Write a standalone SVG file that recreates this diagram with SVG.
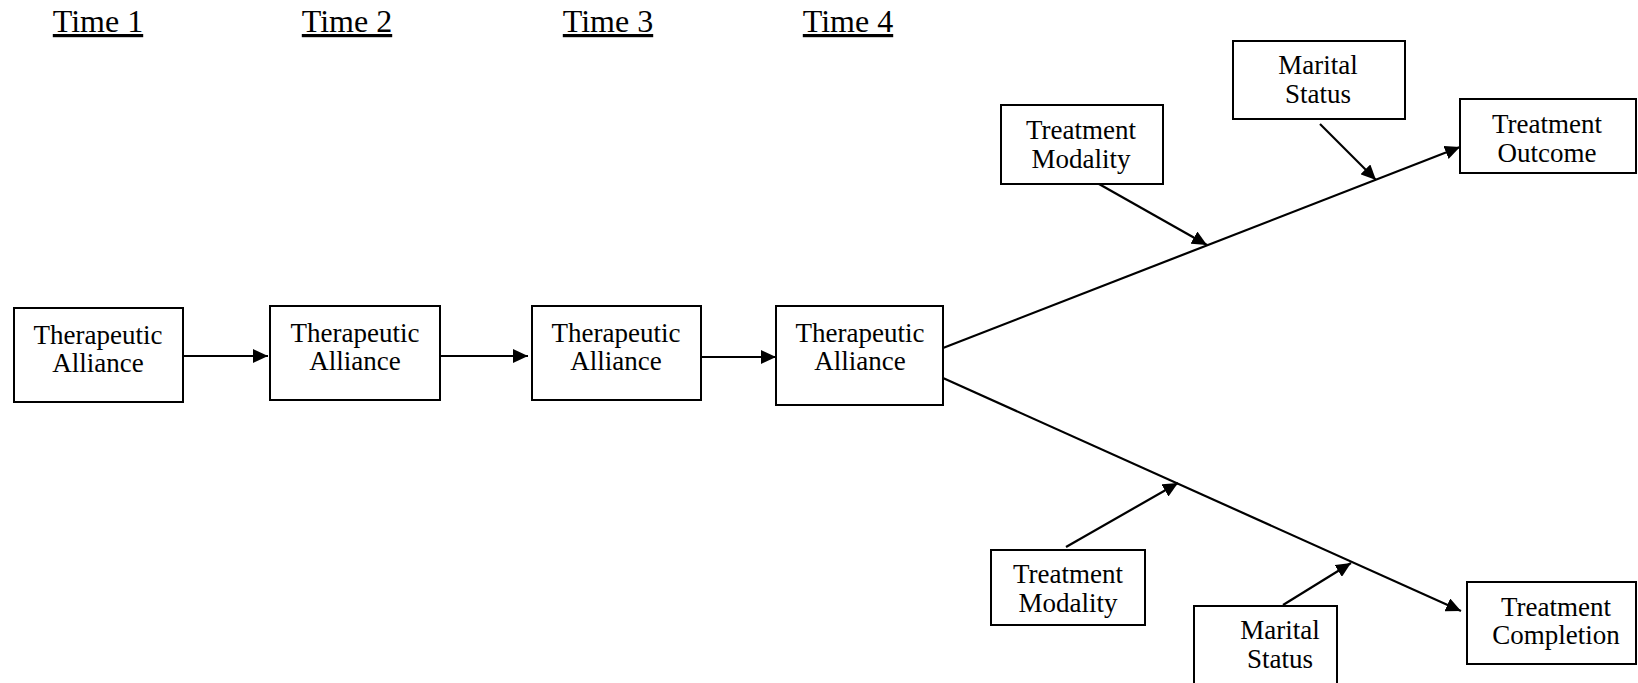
<svg xmlns="http://www.w3.org/2000/svg" width="1638" height="683" viewBox="0 0 1638 683">
<style>
text{font-family:"Liberation Serif","Times New Roman",serif;fill:#000}
.t{font-size:27px;text-anchor:middle}
.h{font-size:32px;text-anchor:middle;text-decoration:underline}
.n rect{fill:#fff;stroke:#000;stroke-width:2}
.c line{stroke:#000;stroke-width:2.2}
</style>
<defs>
<marker id="a" viewBox="0 0 15 14" refX="15" refY="7" markerWidth="15" markerHeight="14" markerUnits="userSpaceOnUse" orient="auto">
<path d="M0,0 L15,7 L0,14 z" fill="#000"/>
</marker>
</defs>
<rect width="1638" height="683" fill="#fff"/>
<g id="labels">
<text class="h" x="98" y="32">Time 1</text>
<text class="h" x="347" y="32">Time 2</text>
<text class="h" x="608" y="32">Time 3</text>
<text class="h" x="848" y="32">Time 4</text>
</g>
<g class="c" id="connectors">
<line x1="183" y1="356" x2="268" y2="356" marker-end="url(#a)"/>
<line x1="440" y1="356" x2="528" y2="356" marker-end="url(#a)"/>
<line x1="701" y1="357" x2="776" y2="357" marker-end="url(#a)"/>
<line x1="943" y1="348" x2="1460" y2="147" marker-end="url(#a)"/>
<line x1="943" y1="378" x2="1461" y2="611" marker-end="url(#a)"/>
<line x1="1099" y1="184" x2="1207" y2="245" marker-end="url(#a)"/>
<line x1="1320" y1="124" x2="1376" y2="180" marker-end="url(#a)"/>
<line x1="1066" y1="547" x2="1178" y2="483" marker-end="url(#a)"/>
<line x1="1283" y1="605" x2="1351" y2="563" marker-end="url(#a)"/>
</g>
<g class="n" id="ta1"><rect x="14" y="308" width="169" height="94"/><text class="t" x="98" y="344">Therapeutic</text><text class="t" x="98" y="372">Alliance</text></g>
<g class="n" id="ta2"><rect x="270" y="306" width="170" height="94"/><text class="t" x="355" y="342">Therapeutic</text><text class="t" x="355" y="370">Alliance</text></g>
<g class="n" id="ta3"><rect x="532" y="306" width="169" height="94"/><text class="t" x="616" y="342">Therapeutic</text><text class="t" x="616" y="370">Alliance</text></g>
<g class="n" id="ta4"><rect x="776" y="306" width="167" height="99"/><text class="t" x="860" y="342">Therapeutic</text><text class="t" x="860" y="370">Alliance</text></g>
<g class="n" id="mod1"><rect x="1001" y="105" width="162" height="79"/><text class="t" x="1081" y="139">Treatment</text><text class="t" x="1081" y="168">Modality</text></g>
<g class="n" id="mar1"><rect x="1233" y="41" width="172" height="78"/><text class="t" x="1318" y="74">Marital</text><text class="t" x="1318" y="103">Status</text></g>
<g class="n" id="out"><rect x="1460" y="99" width="176" height="74"/><text class="t" x="1547" y="133">Treatment</text><text class="t" x="1547" y="162">Outcome</text></g>
<g class="n" id="mod2"><rect x="991" y="550" width="154" height="75"/><text class="t" x="1068" y="583">Treatment</text><text class="t" x="1068" y="612">Modality</text></g>
<g class="n" id="mar2"><rect x="1194" y="606" width="143" height="90"/><text class="t" x="1280" y="639">Marital</text><text class="t" x="1280" y="668">Status</text></g>
<g class="n" id="comp"><rect x="1467" y="582" width="169" height="82"/><text class="t" x="1556" y="616">Treatment</text><text class="t" x="1556" y="644">Completion</text></g>
</svg>
